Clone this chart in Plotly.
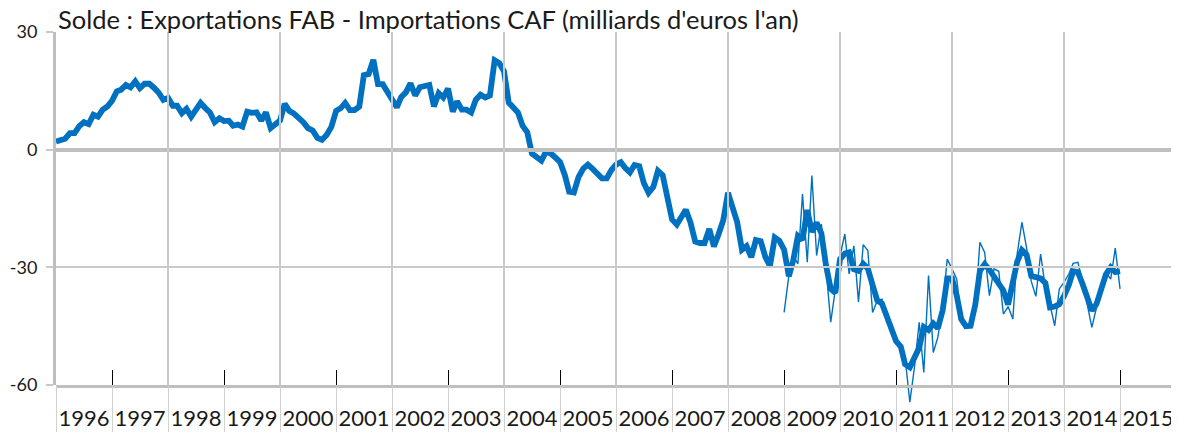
import pandas as pd
import plotly.graph_objects as go

# ---- data (milliards d'euros, monthly) ----
thick_start = "1996-01-01"
thick_values = [
    2.1, 2.4, 2.8, 4.2, 4.2, 6.0, 7.0, 6.5, 8.9, 8.4, 10.2, 11.0,          # 1996
    12.5, 14.9, 15.3, 16.5, 15.9, 17.4, 15.7, 16.8, 16.8, 15.8, 14.5, 12.7,  # 1997
    13.2, 11.2, 11.2, 9.3, 10.4, 8.4, 10.0, 11.9, 10.6, 9.5, 7.0, 8.0,      # 1998
    7.3, 7.4, 6.1, 6.4, 5.9, 9.7, 9.4, 9.5, 7.4, 9.5, 5.5, 6.5,             # 1999
    7.4, 11.7, 9.9, 9.2, 8.2, 7.0, 5.5, 4.9, 3.0, 2.5, 3.8, 5.8,            # 2000
    9.9, 10.6, 11.9, 10.1, 10.1, 11.0, 19.0, 19.3, 22.9, 16.7, 16.7, 14.6,  # 2001
    12.5, 10.8, 13.4, 14.6, 16.9, 13.8, 15.9, 16.3, 16.5, 11.0, 14.4, 13.3, # 2002
    15.6, 9.7, 12.3, 10.2, 10.2, 9.5, 12.7, 14.0, 13.3, 13.8, 22.8, 22.1,   # 2003
    20.0, 12.0, 11.0, 9.5, 6.1, 4.4, -1.0, -2.0, -2.8, -0.5, -1.0, -2.0,    # 2004
    -3.2, -6.5, -10.7, -10.9, -7.0, -4.8, -3.8, -4.9, -6.0, -7.3, -7.3, -5.2,  # 2005
    -3.8, -3.2, -4.6, -5.8, -3.9, -4.2, -8.5, -11.0, -9.5, -5.4, -6.5, -12.0,  # 2006
    -17.8, -19.1, -17.2, -15.3, -18.5, -23.4, -23.8, -23.8, -20.2, -24.7, -21.5, -18.0,  # 2007
    -11.0, -15.5, -18.5, -25.5, -24.6, -27.4, -23.0, -23.3, -27.4, -29.6, -22.4, -23.2,  # 2008
    -25.5, -32.3, -28.3, -22.0, -23.0, -15.4, -21.0, -18.6, -21.3, -29.5, -35.5, -36.5,  # 2009
    -27.9, -26.5, -26.2, -30.5, -30.9, -29.1, -30.3, -34.5, -38.5, -39.2, -42.3, -46.0,  # 2010
    -48.8, -50.2, -54.7, -55.5, -53.3, -50.5, -45.2, -46.0, -44.3, -45.5, -41.0, -32.8,  # 2011
    -32.8, -37.2, -43.2, -45.0, -44.9, -39.5, -30.9, -29.2, -30.6, -32.3, -33.8, -35.9,  # 2012
    -39.5, -33.0, -28.6, -25.6, -26.7, -32.2, -32.4, -32.8, -34.0, -40.2, -40.0, -39.4,  # 2013
    -37.3, -34.5, -31.0, -31.2, -34.2, -38.0, -41.0, -39.3, -35.2, -31.8, -30.0, -31.2,  # 2014
    -31.0,                                                                   # 2015
]

thin_start = "2009-01-01"
thin_values = [
    -41.5, -32.1, -27.0, -29.1, -11.3, -28.7, -6.6, -27.0, -19.0, -30.0, -44.0, -36.0,   # 2009
    -27.0, -21.5, -31.7, -24.5, -38.8, -24.2, -25.7, -41.5, -38.5, -38.1, -42.0, -46.0,  # 2010
    -49.0, -50.5, -53.0, -64.4, -55.5, -44.0, -56.8, -32.1, -51.7, -47.8, -40.0, -27.9,  # 2011
    -30.4, -33.0, -43.2, -45.5, -45.0, -40.0, -23.6, -26.2, -37.2, -30.4, -31.0, -41.9,  # 2012
    -40.0, -43.2, -26.6, -18.5, -24.9, -33.6, -37.4, -26.6, -35.3, -39.5, -44.9, -35.5,  # 2013
    -33.8, -31.7, -29.0, -28.7, -33.4, -39.0, -45.3, -40.2, -34.7, -31.3, -33.0, -25.1,  # 2014
    -35.5,                                                                               # 2015
]

y_tickvals = [-60, -30, 0, 30]
y_ticktext = ["-60", "-30", "0", "30"]
x_range = ["1996-01-01", "2016-01-01"]
title_text = "Solde : Exportations FAB - Importations CAF (milliards d'euros l'an)"

thick_dates = pd.date_range(thick_start, periods=len(thick_values), freq="MS")
thin_dates = pd.date_range(thin_start, periods=len(thin_values), freq="MS")

# ---- layout geometry (page body adds an 8px offset) ----
OFF = 8
W, H = 1179 - OFF, 432 - OFF
m_l, m_r, m_t, m_b = 56 - OFF, 3, 32 - OFF, 27
plot_h = H - m_t - m_b
below_px = 20                      # room under -60 for values below the axis
d = below_px / plot_h
y_lo, y_hi = -60, 30
y2_lo = y_lo - (y_hi - y_lo) * d / (1 - d)

BLUE = "#0070C0"
GRID = "#c9c9c9"
AXIS = "#bfbfbf"
FONT = "Lato"
TXT = "#1a1a1a"
CLEAR = "rgba(0,0,0,0)"

fig = go.Figure()
# empty helper traces so the overlay axes exist
for ax in ["x2", "x3", "x4"]:
    fig.add_trace(go.Scatter(x=[x_range[0]], y=[None], xaxis=ax, yaxis="y",
                             showlegend=False, hoverinfo="skip"))
fig.add_trace(go.Scatter(x=thin_dates, y=thin_values, mode="lines",
                         line=dict(color=BLUE, width=1.4),
                         xaxis="x", yaxis="y2", showlegend=False))
fig.add_trace(go.Scatter(x=thick_dates, y=thick_values, mode="lines",
                         line=dict(color=BLUE, width=5.8),
                         xaxis="x", yaxis="y2", showlegend=False))

common_x = dict(type="date", range=x_range, anchor="y", fixedrange=True,
                automargin=False)

fig.update_layout(
    width=W, height=H,
    margin=dict(l=m_l, r=m_r, t=m_t, b=m_b, pad=0, autoexpand=False),
    paper_bgcolor="white", plot_bgcolor=CLEAR,
    font=dict(family=FONT, color=TXT),
    title=dict(text=title_text, x=(58 - OFF) / W, xref="container", xanchor="left",
               y=1 - (20 - OFF) / H, yref="container", yanchor="middle",
               font=dict(family=FONT, size=25.5, color=TXT)),
    xaxis=dict(**common_x, tick0="1996-01-01", dtick="M12",
               ticklabelmode="period", tickformat="%Y",
               ticks="", showgrid=False, zeroline=False,
               showline=True, linecolor=AXIS, linewidth=3,
               tickfont=dict(family=FONT, size=22, color=TXT),
               ticklabelstandoff=12),
    xaxis2=dict(**common_x, overlaying="x", tick0="1996-01-01", dtick="M12",
                ticks="outside", ticklen=60, tickwidth=1, tickcolor="#d2d2d2",
                showticklabels=False, showgrid=False, showline=False, zeroline=False),
    xaxis3=dict(**common_x, overlaying="x", tick0="1996-01-01", dtick="M24",
                ticks="", showticklabels=False, showgrid=True, gridcolor=GRID,
                gridwidth=1.5, showline=False, zeroline=False),
    xaxis4=dict(**common_x, overlaying="x", tick0="1997-01-01", dtick="M24",
                ticks="inside", ticklen=15, tickwidth=1, tickcolor="#000000",
                showticklabels=False, showgrid=False, showline=False, zeroline=False),
    yaxis=dict(domain=[d, 1], range=[y_lo, y_hi], tickvals=y_tickvals,
               ticktext=y_ticktext, showgrid=True, gridcolor=GRID, gridwidth=1.5,
               zeroline=True, zerolinecolor=AXIS, zerolinewidth=3.5,
               showline=True, linecolor=AXIS, linewidth=3,
               ticks="outside", ticklen=7, tickwidth=1.5, tickcolor=GRID,
               tickfont=dict(family=FONT, size=18, color=TXT),
               ticklabelstandoff=5, fixedrange=True, anchor="x",
               automargin=False),
    yaxis2=dict(domain=[0, 1], range=[y2_lo, y_hi], visible=False,
                anchor="x", fixedrange=True, automargin=False),
)

fig.write_html("out.html")
